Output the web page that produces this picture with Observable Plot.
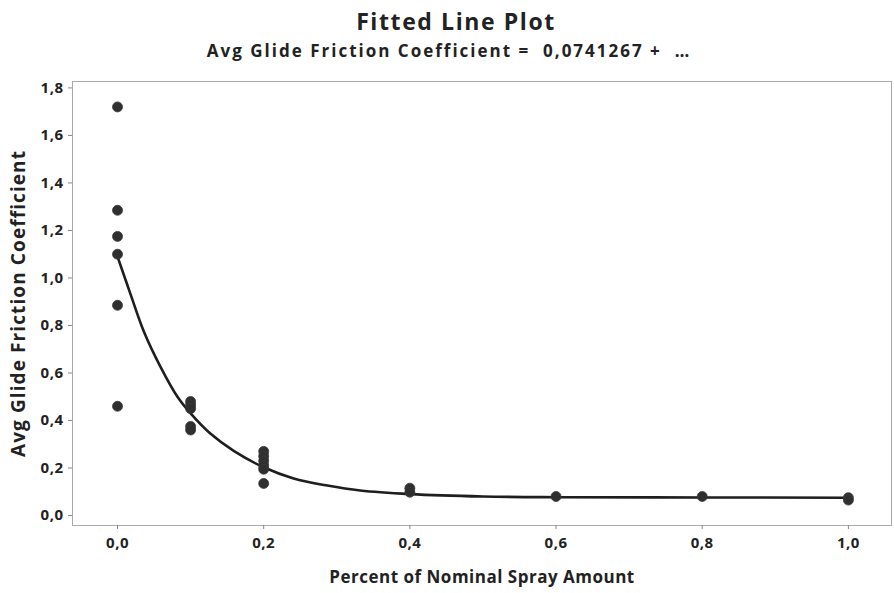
<!DOCTYPE html>
<html>
<head>
<meta charset="utf-8">
<script src="https://cdn.jsdelivr.net/npm/d3@7"></script>
<script src="https://cdn.jsdelivr.net/npm/@observablehq/plot@0.6"></script>
<style>
  html, body { margin: 0; padding: 0; background: #fff; }
  #chart svg { display: block; }
</style>
</head>
<body>
<div id="chart"></div>
<script>
// Observed points: spray amount (fraction of nominal) and friction coefficient
const pointX = [0, 0, 0, 0, 0, 0,
                0.1, 0.1, 0.1, 0.1, 0.1,
                0.2, 0.2, 0.2, 0.2, 0.2, 0.2,
                0.4, 0.4, 0.6, 0.8, 1.0, 1.0];
const pointY = [1.72, 1.285, 1.175, 1.10, 0.885, 0.46,
                0.48, 0.465, 0.45, 0.375, 0.36,
                0.27, 0.25, 0.23, 0.21, 0.195, 0.135,
                0.115, 0.098, 0.08, 0.08, 0.075, 0.065];

// Fitted curve
const fitX = [0, 0.018, 0.036, 0.059, 0.082, 0.1, 0.127, 0.159, 0.2, 0.241, 0.287, 0.332, 0.4, 0.5, 0.6, 0.8, 1.0];
const fitY = [1.09, 0.93, 0.775, 0.625, 0.50, 0.43, 0.345, 0.272, 0.203, 0.156, 0.126, 0.105, 0.090, 0.080, 0.077, 0.076, 0.075];

const xTicks = [0, 0.2, 0.4, 0.6, 0.8, 1.0];
const yTicks = [0, 0.2, 0.4, 0.6, 0.8, 1.0, 1.2, 1.4, 1.6, 1.8];

const titleText = "Fitted Line Plot";
const subtitleText = "Avg Glide Friction Coefficient =  0,0741267 +  …";
const xLabel = "Percent of Nominal Spray Amount";
const yLabel = "Avg Glide Friction Coefficient";

const points = pointX.map((x, i) => ({x, y: pointY[i]}));
const fit = fitX.map((x, i) => ({x, y: fitY[i]}));
const fmt = d => d.toFixed(1).replace(".", ",");

const font = "'Open Sans', 'DejaVu Sans', sans-serif";

const chart = Plot.plot({
  width: 894,
  height: 593,
  marginLeft: 72,
  marginRight: 3,
  marginTop: 81,
  marginBottom: 68,
  style: {fontFamily: font, fontWeight: "bold", fontSize: "15px", color: "#222", background: "#fff"},
  x: {domain: [-0.0616, 1.059], label: null},
  y: {domain: [-0.042, 1.827], label: null},
  marks: [
    Plot.frame({stroke: "#aaa", strokeWidth: 1}),
    Plot.axisX({ticks: xTicks, tickFormat: fmt, tickSize: 4, tickPadding: 8, stroke: "#888", fill: "#222", fontWeight: "bold", fontSize: 15, label: null}),
    Plot.axisY({ticks: yTicks, tickFormat: fmt, tickSize: 4, tickPadding: 5, stroke: "#888", fill: "#222", fontWeight: "bold", fontSize: 15, label: null}),
    Plot.line(fit, {x: "x", y: "y", stroke: "#1e1e1e", strokeWidth: 2.6, curve: "catmull-rom"}),
    Plot.dot(points, {x: "x", y: "y", r: 5, fill: "#2f2f2f", stroke: "#3a3a3a", strokeWidth: 0.8, symbol: "circle"}),
    Plot.text([titleText], {frameAnchor: "top", dy: -68, fontSize: 23, fontWeight: "bold", fill: "#222", dx: -26}),
    Plot.text([subtitleText], {frameAnchor: "top", dy: -37, fontSize: 17, fontWeight: "bold", fill: "#222", dx: -33}),
    Plot.text([xLabel], {frameAnchor: "bottom", dy: 57, fontSize: 17, fontWeight: "bold", fill: "#222"}),
    Plot.text([yLabel], {frameAnchor: "left", textAnchor: "middle", dx: -54, rotate: -90, fontSize: 19, fontWeight: "bold", fill: "#222"})
  ]
});

const spacing = new Map([[titleText, "1.6px"], [subtitleText, "2px"], [xLabel, "0.5px"], [yLabel, "1.1px"]]);
d3.select(chart).selectAll("text").each(function() {
  const t = this.textContent;
  if (spacing.has(t)) this.setAttribute("letter-spacing", spacing.get(t));
});
d3.select(chart).selectAll('g[aria-label="x-axis tick label"] text, g[aria-label="y-axis tick label"] text')
  .attr("letter-spacing", "0.5px");

document.getElementById("chart").appendChild(chart);
</script>
</body>
</html>
